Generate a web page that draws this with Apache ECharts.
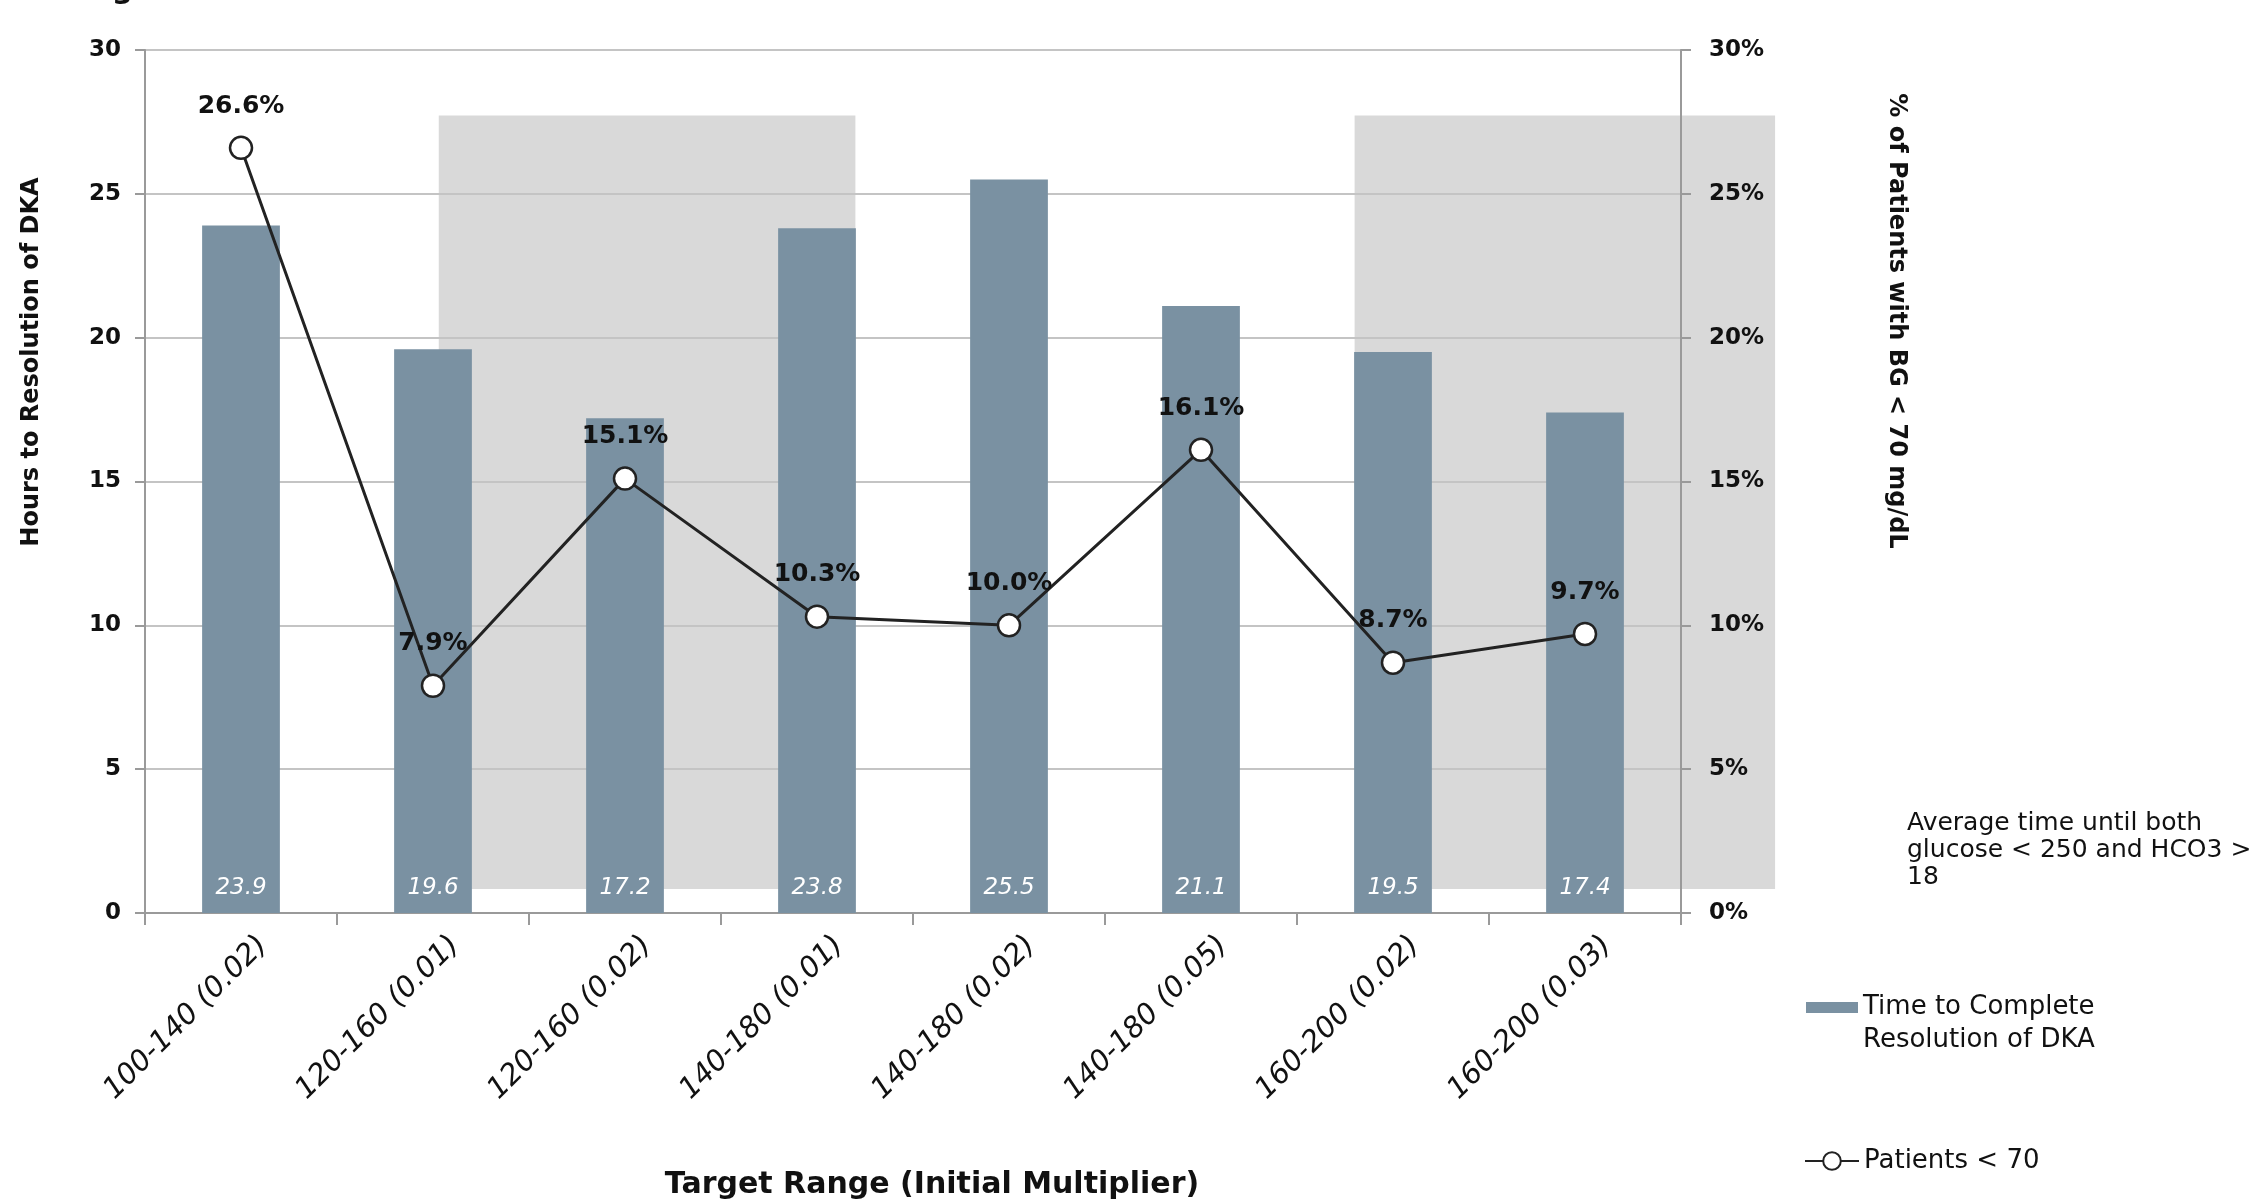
<!DOCTYPE html>
<html>
<head>
<meta charset="utf-8">
<script src="https://cdn.jsdelivr.net/npm/echarts@6/dist/echarts.min.js"></script>
<style>
  html, body { margin: 0; padding: 0; background: #ffffff; }
  #chart { width: 2266px; height: 1200px; }
</style>
</head>
<body>
<div id="chart"></div>
<script>
// Target range groups (initial multiplier in parentheses)
const categories = [
  '100-140 (0.02)', '120-160 (0.01)', '120-160 (0.02)', '140-180 (0.01)',
  '140-180 (0.02)', '140-180 (0.05)', '160-200 (0.02)', '160-200 (0.03)'
];
// Average hours until complete resolution of DKA
const resolutionHours = [23.9, 19.6, 17.2, 23.8, 25.5, 21.1, 19.5, 17.4];
// Percent of patients with BG < 70 mg/dL
const pctBelow70 = [26.6, 7.9, 15.1, 10.3, 10.0, 16.1, 8.7, 9.7];
// Axis scales
const hoursAxis = { min: 0, max: 30, step: 5 };
const pctAxis = { min: 0, max: 30, step: 5 };
// Shaded groups: [first category index, last category index, low hours, high hours]
const shadedGroups = [
  [1.03, 3.20, 0.83, 27.72],
  [5.80, 7.99, 0.83, 27.72]
];

const FONT = '"DejaVu Sans", "Liberation Sans", sans-serif';
const INK = '#111111';
const BAR_NAME = 'Time to Complete\nResolution of DKA';
const LINE_NAME = 'Patients < 70';

const chart = echarts.init(document.getElementById('chart'), null, { renderer: 'canvas' });

chart.setOption({
  animation: false,
  backgroundColor: '#ffffff',
  grid: { left: 145, right: 585, top: 50, bottom: 287, containLabel: false, outerBoundsMode: 'none' },
  xAxis: [
    {
      type: 'category',
      data: categories,
      boundaryGap: true,
      z: 1,
      axisLine: { show: true, lineStyle: { color: '#9a9a9a', width: 2 } },
      axisTick: { show: true, length: 12, lineStyle: { color: '#9a9a9a', width: 2 } },
      axisLabel: {
        interval: 0, rotate: 45, margin: 6,
        verticalAlign: 'top', lineHeight: 62,
        fontFamily: FONT, fontStyle: 'italic', fontSize: 29, color: INK
      },
      name: 'Target Range (Initial Multiplier)',
      nameLocation: 'middle',
      nameGap: 257,
      nameTextStyle: {
        fontFamily: FONT, fontWeight: 'bold', fontSize: 30, color: INK,
        padding: [0, 0, 0, 38]
      }
    },
    { type: 'value', min: -0.5, max: 7.5, show: false }
  ],
  yAxis: [
    {
      type: 'value', min: hoursAxis.min, max: hoursAxis.max, interval: hoursAxis.step,
      position: 'left', z: 1,
      axisLine: { show: true, onZero: false, lineStyle: { color: '#9a9a9a', width: 2 } },
      axisTick: { show: true, length: 10, lineStyle: { color: '#9a9a9a', width: 2 } },
      axisLabel: { margin: 24, fontFamily: FONT, fontSize: 23, fontWeight: 'bold', color: INK },
      splitLine: { show: true, lineStyle: { color: '#c4c4c4', width: 2 } }
    },
    {
      type: 'value', min: pctAxis.min, max: pctAxis.max, interval: pctAxis.step,
      position: 'right', z: 1,
      axisLine: { show: true, onZero: false, lineStyle: { color: '#9a9a9a', width: 2 } },
      axisTick: { show: true, length: 10, lineStyle: { color: '#9a9a9a', width: 2 } },
      axisLabel: {
        margin: 28, fontFamily: FONT, fontSize: 23, fontWeight: 'bold', color: INK,
        formatter: '{value}%'
      },
      splitLine: { show: false }
    }
  ],
  legend: [
    {
      data: [BAR_NAME], orient: 'vertical', left: 1806, top: 958, padding: 0,
      itemWidth: 52, itemHeight: 11, icon: 'rect',
      // leading blank line keeps the swatch level with the first text line
      formatter: function (name) { return '\n' + name; },
      textStyle: { fontFamily: FONT, fontSize: 26, color: INK, lineHeight: 33 }
    },
    {
      data: [LINE_NAME], orient: 'vertical', left: 1804, top: 1148, padding: 0,
      itemWidth: 54, itemHeight: 22,
      textStyle: { fontFamily: FONT, fontSize: 26, color: INK }
    }
  ],
  graphic: [
    {
      type: 'text', x: 81, y: -10, silent: true,
      style: { text: 'Figure', font: 'bold 30px ' + FONT, fill: INK,
               align: 'left', verticalAlign: 'middle', textAlign: 'left', textVerticalAlign: 'middle' }
    },
    {
      type: 'text', x: 32, y: 362, rotation: Math.PI / 2, silent: true,
      style: { text: 'Hours to Resolution of DKA', font: 'bold 24px ' + FONT, fill: INK,
               align: 'center', verticalAlign: 'middle', textAlign: 'center', textVerticalAlign: 'middle' }
    },
    {
      type: 'text', x: 1896, y: 321, rotation: -Math.PI / 2, silent: true,
      style: { text: '% of Patients with BG < 70 mg/dL', font: 'bold 24px ' + FONT, fill: INK,
               align: 'center', verticalAlign: 'middle', textAlign: 'center', textVerticalAlign: 'middle' }
    },
    {
      type: 'text', x: 1907, y: 810, silent: true,
      style: { text: 'Average time until both\nglucose < 250 and HCO3 >\n18',
               font: '25px ' + FONT, fill: INK, lineHeight: 27,
               align: 'left', verticalAlign: 'top', textAlign: 'left', textVerticalAlign: 'top' }
    }
  ],
  series: [
    {
      type: 'custom',
      name: 'shade',
      xAxisIndex: 1, yAxisIndex: 0,
      z: 0, clip: false, silent: true,
      data: shadedGroups,
      renderItem: function (params, api) {
        const topLeft = api.coord([api.value(0), api.value(3)]);
        const bottomRight = api.coord([api.value(1), api.value(2)]);
        return {
          type: 'rect',
          shape: {
            x: topLeft[0], y: topLeft[1],
            width: bottomRight[0] - topLeft[0], height: bottomRight[1] - topLeft[1]
          },
          style: { fill: '#d9d9d9' }
        };
      }
    },
    {
      type: 'bar',
      name: BAR_NAME,
      xAxisIndex: 0, yAxisIndex: 0,
      data: resolutionHours,
      barWidth: '40.5%',
      z: 2,
      itemStyle: { color: '#7a91a2' },
      label: {
        show: true, position: 'insideBottom', distance: 13,
        fontFamily: FONT, fontStyle: 'italic', fontSize: 23, color: '#ffffff',
        formatter: function (p) { return p.value.toFixed(1); }
      }
    },
    {
      type: 'line',
      name: LINE_NAME,
      xAxisIndex: 0, yAxisIndex: 1,
      data: pctBelow70,
      z: 3,
      symbol: 'circle', symbolSize: 22,
      lineStyle: { color: '#222222', width: 3 },
      itemStyle: { color: '#ffffff', borderColor: '#222222', borderWidth: 2.5 },
      label: {
        show: true, position: 'top', distance: 17,
        fontFamily: FONT, fontWeight: 'bold', fontSize: 25, color: INK,
        formatter: function (p) { return p.value.toFixed(1) + '%'; }
      }
    }
  ]
});
</script>
</body>
</html>
